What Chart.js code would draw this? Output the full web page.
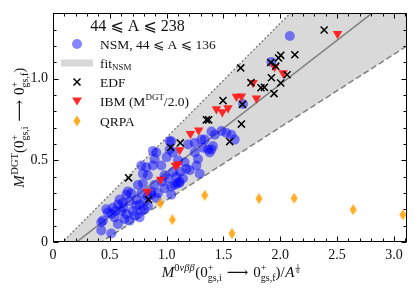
<!DOCTYPE html>
<html><head><meta charset="utf-8">
<script src="https://cdn.jsdelivr.net/npm/chart.js@4.4.1/dist/chart.umd.min.js"></script>
<style>html,body{margin:0;padding:0;background:#fff}canvas{display:block}</style>
</head><body>
<canvas id="c" width="415" height="292"></canvas>
<script>
// ---------- data ----------
const nsmX = [2.084,1.922,1.672,1.394,1.423,1.482,1.526,1.570,1.599,1.335,1.320,1.408,1.394,1.247,1.188,1.026,1.026,1.056,0.879,0.909,0.894,0.953,1.379,1.247,1.276,1.262,1.159,1.174,1.203,1.291,1.056,0.982,1.011,1.085,1.115,1.144,1.070,0.982,0.894,0.923,0.865,1.041,0.909,0.777,0.821,0.791,0.835,0.879,0.659,0.645,0.689,0.586,0.571,0.615,0.674,0.733,0.762,0.806,0.469,0.513,0.542,0.483,0.439,0.527,0.601,0.645,0.703,0.718,0.777,0.762,0.835,0.425,0.513,0.571,0.630,0.674,0.733,0.777,0.835,0.865,1.041,1.306,1.364,0.791,0.747,0.425,1.000,1.100,0.620,0.550,1.120,0.960,1.090,1.110,1.040,0.800];
const nsmY = [1.262,1.103,0.845,0.677,0.657,0.680,0.667,0.657,0.627,0.627,0.577,0.588,0.567,0.607,0.597,0.617,0.567,0.548,0.558,0.548,0.508,0.468,0.548,0.548,0.508,0.468,0.488,0.448,0.439,0.418,0.429,0.409,0.389,0.399,0.369,0.389,0.349,0.329,0.349,0.299,0.310,0.290,0.270,0.468,0.458,0.418,0.409,0.468,0.310,0.290,0.299,0.260,0.230,0.240,0.250,0.260,0.230,0.250,0.201,0.171,0.151,0.180,0.131,0.210,0.190,0.171,0.190,0.161,0.190,0.151,0.220,0.071,0.052,0.111,0.141,0.131,0.220,0.299,0.280,0.290,0.617,0.627,0.567,0.359,0.349,0.121,0.520,0.500,0.210,0.190,0.430,0.370,0.360,0.360,0.340,0.200];

const edfX = [0.665,0.841,1.035,1.120,1.350,1.370,1.496,1.555,1.652,1.658,1.667,1.742,1.830,1.860,1.916,1.922,1.945,1.960,1.985,2.004,2.004,2.060,2.128,2.386];
const edfY = [0.393,0.260,0.579,0.607,0.748,0.748,0.866,0.615,1.066,0.722,0.843,0.976,0.945,0.947,1.099,1.006,0.909,1.077,1.127,1.143,0.974,1.024,1.147,1.298];

const ibmX = [0.830,0.947,1.077,1.100,1.115,1.209,1.282,1.438,1.490,1.540,1.614,1.658,1.790,1.760,1.950,2.025,2.504];
const ibmY = [0.310,0.383,0.468,0.478,0.564,0.663,0.685,0.815,0.796,0.820,0.891,0.893,0.880,0.975,1.073,1.035,1.276];

const qrpaX = [0.944,1.050,1.335,1.575,1.813,2.122,2.641,3.079];
const qrpaY = [0.236,0.137,0.286,0.052,0.266,0.268,0.198,0.167];

// fit line (central) and band edges, given as end points
const fitX = [0, 3.2];
const fitCentralY = [-0.112, 1.613];
const fitUpperY = [-0.060, 2.180];
const fitLowerY = [-0.190, 1.239];

const xTicks = [0, 0.5, 1.0, 1.5, 2.0, 2.5, 3.0];
const yTicks = [0, 0.5, 1.0];
const xRange = [0, 3.115];
const yRange = [0, 1.4];

// ---------- helpers ----------
const SERIF = "'Liberation Serif','DejaVu Serif','DejaVu Sans',serif";
const font = (s, it) => (it ? 'italic ' : '') + s + 'px ' + SERIF;
const pts = (xs, ys) => xs.map((x, i) => ({x, y: ys[i]}));
const TXT = '#111';

function itemWidth(ctx, it) {
  if (it.frac) { ctx.font = font(it.s); return Math.max(ctx.measureText(it.frac[0]).width, ctx.measureText(it.frac[1]).width) + 1.5; }
  if (it.sup !== undefined) { ctx.font = font(it.s); return Math.max(ctx.measureText(it.sup).width, ctx.measureText(it.sub).width); }
  ctx.font = font(it.s, it.i); return ctx.measureText(it.t).width + (it.padL || 0) + (it.padR || 0);
}
function drawRich(ctx, items, x, y, align) {
  let w = 0; for (const it of items) w += itemWidth(ctx, it);
  let cx = align === 'center' ? x - w / 2 : x;
  ctx.textAlign = 'left'; ctx.textBaseline = 'alphabetic'; ctx.fillStyle = TXT;
  for (const it of items) {
    const iw = itemWidth(ctx, it);
    if (it.frac) {
      ctx.font = font(it.s);
      const by = y + it.dy;
      const w0 = ctx.measureText(it.frac[0]).width, w1 = ctx.measureText(it.frac[1]).width;
      ctx.fillText(it.frac[0], cx + (iw - w0) / 2, by - 1);
      ctx.fillText(it.frac[1], cx + (iw - w1) / 2, by + it.s * 0.72);
      ctx.fillRect(cx, by - 0.3, iw, 0.6);
    } else if (it.sup !== undefined) {
      ctx.font = font(it.s);
      ctx.fillText(it.sup, cx, y + it.supDy);
      ctx.fillText(it.sub, cx, y + it.subDy);
    } else {
      ctx.font = font(it.s, it.i);
      ctx.fillText(it.t, cx + (it.padL || 0), y + (it.dy || 0));
    }
    cx += iw;
  }
}

function diamondCanvas(fill) {
  const c = document.createElement('canvas'); c.width = 10; c.height = 14;
  const g = c.getContext('2d'); g.fillStyle = fill;
  g.beginPath(); g.moveTo(5, 1.5); g.lineTo(8.6, 7); g.lineTo(5, 12.5); g.lineTo(1.4, 7); g.closePath(); g.fill();
  return c;
}
const ORANGE = 'rgba(255,160,0,0.85)';
const BLUE = 'rgba(0,0,255,0.48)';
const RED = 'rgba(255,20,20,0.9)';
const BAND = '#d9d9d9';
const diamond = diamondCanvas(ORANGE);

// ---------- plugins ----------
const framePlugin = {
  id: 'frame',
  afterDraw(chart) {
    const {ctx, chartArea: a, scales: {x, y}} = chart;
    ctx.save();
    ctx.strokeStyle = '#000'; ctx.lineWidth = 1;
    const L = Math.round(a.left) + 0.5, R = Math.round(a.right) - 0.5, T = Math.round(a.top) + 0.5, B = Math.round(a.bottom) - 0.5;
    ctx.strokeRect(L, T, R - L, B - T);
    ctx.beginPath();
    for (let k = 0; k <= 31; k++) {
      const v = k / 10; if (v > xRange[1]) break;
      const px = Math.round(x.getPixelForValue(v)) + 0.5, len = k % 5 === 0 ? 5 : 3;
      ctx.moveTo(px, B); ctx.lineTo(px, B - len);
      ctx.moveTo(px, T); ctx.lineTo(px, T + len);
    }
    for (let k = 0; k <= 14; k++) {
      const v = k / 10;
      const py = Math.round(y.getPixelForValue(v)) + 0.5, len = k % 5 === 0 ? 5 : 3;
      ctx.moveTo(L, py); ctx.lineTo(L + len, py);
      ctx.moveTo(R, py); ctx.lineTo(R - len, py);
    }
    ctx.stroke();

    // axis titles
    const xl = [
      {t: 'M', s: 15, i: true},
      {t: '0', s: 10.5, dy: -6.5}, {t: 'νββ', s: 10.5, i: true, dy: -6.5, padR: 0.5},
      {t: '(0', s: 15},
      {sup: '+', sub: 'gs,i', s: 10, supDy: -6, subDy: 3.5},
      {t: '⟶', s: 15, padL: 5, padR: 5},
      {t: '0', s: 15},
      {sup: '+', sub: 'gs,f', s: 10, supDy: -6, subDy: 3.5},
      {t: ')/', s: 15, padR: 0.5},
      {t: 'A', s: 15, i: true, padR: 1},
      {frac: ['1', '6'], s: 6.5, dy: -8.5}
    ];
    drawRich(ctx, xl, (a.left + a.right) / 2 + 1, 277, 'center');

    const yl = [
      {t: 'M', s: 15, i: true, padR: 0.5},
      {t: 'DGT', s: 10.5, dy: -6.5},
      {t: '(0', s: 15},
      {sup: '+', sub: 'gs,i', s: 10, supDy: -6, subDy: 3.5},
      {t: '⟶', s: 15, padL: 5, padR: 5},
      {t: '0', s: 15},
      {sup: '+', sub: 'gs,f', s: 10, supDy: -6, subDy: 3.5},
      {t: ')', s: 15}
    ];
    ctx.save();
    ctx.translate(24, (a.top + a.bottom) / 2);
    ctx.rotate(-Math.PI / 2);
    drawRich(ctx, yl, 0, 0, 'center');
    ctx.restore();

    // legend
    drawRich(ctx, [{t: '44 ⩽ A ⩽ 238', s: 16}], 137.5, 31, 'center');
    const mx = 77, tx = 100, rows = [44, 63, 82, 101, 121];
    ctx.fillStyle = BLUE; ctx.beginPath(); ctx.arc(mx, rows[0], 5, 0, Math.PI * 2); ctx.fill();
    drawRich(ctx, [{t: 'NSM, 44 ⩽ A ⩽ 136', s: 13.5}], tx, rows[0] + 4.5);
    ctx.fillStyle = BAND; ctx.fillRect(61, rows[1] - 3.5, 32, 7);
    drawRich(ctx, [{t: 'fit', s: 13.5}, {t: 'NSM', s: 9, dy: 2.5}], tx, rows[1] + 4.5);
    ctx.strokeStyle = '#000'; ctx.lineWidth = 1.5; ctx.beginPath();
    ctx.moveTo(mx - 3.5, rows[2] - 3.5); ctx.lineTo(mx + 3.5, rows[2] + 3.5);
    ctx.moveTo(mx + 3.5, rows[2] - 3.5); ctx.lineTo(mx - 3.5, rows[2] + 3.5); ctx.stroke();
    drawRich(ctx, [{t: 'EDF', s: 13.5}], tx, rows[2] + 4.5);
    ctx.fillStyle = RED; ctx.beginPath();
    ctx.moveTo(mx - 5, rows[3] - 3.5); ctx.lineTo(mx + 5, rows[3] - 3.5); ctx.lineTo(mx, rows[3] + 4.5); ctx.closePath(); ctx.fill();
    drawRich(ctx, [{t: 'IBM (M', s: 13.5}, {t: 'DGT', s: 9, dy: -5.5}, {t: '/2.0)', s: 13.5}], tx, rows[3] + 4.5);
    ctx.drawImage(diamond, mx - 5, rows[4] - 7);
    drawRich(ctx, [{t: 'QRPA', s: 13.5}], tx, rows[4] + 4.5);
    ctx.restore();
  }
};

// ---------- chart ----------
const tickFont = {family: SERIF, size: 14};
const fmt = v => (v === 0 ? '0' : Number(v).toFixed(1));

new Chart(document.getElementById('c'), {
  type: 'scatter',
  data: {
    datasets: [
      {label: 'upper', data: pts(fitX, fitUpperY), showLine: true, borderColor: '#777', borderWidth: 1.3, borderDash: [2, 2], pointRadius: 0, fill: {target: 1}, backgroundColor: BAND, order: 12},
      {label: 'lower', data: pts(fitX, fitLowerY), showLine: true, borderColor: '#808080', borderWidth: 1.5, borderDash: [6, 3], pointRadius: 0, fill: false, order: 11},
      {label: 'fit', data: pts(fitX, fitCentralY), showLine: true, borderColor: '#808080', borderWidth: 1.5, pointRadius: 0, fill: false, order: 10},
      {label: 'NSM', data: pts(nsmX, nsmY), pointStyle: 'circle', pointRadius: 5, backgroundColor: BLUE, borderWidth: 0, order: 4},
      {label: 'IBM', data: pts(ibmX, ibmY), pointStyle: 'triangle', rotation: 180, pointRadius: 5.5, backgroundColor: RED, borderWidth: 0, order: 3},
      {label: 'EDF', data: pts(edfX, edfY), pointStyle: 'crossRot', pointRadius: 5, borderColor: '#000', borderWidth: 1.5, backgroundColor: '#000', order: 2},
      {label: 'QRPA', data: pts(qrpaX, qrpaY), pointStyle: diamond, pointRadius: 6, order: 1}
    ]
  },
  options: {
    responsive: false, animation: false, devicePixelRatio: 1,
    layout: {padding: {top: 7, right: 8, left: 0, bottom: 0}},
    plugins: {legend: {display: false}, tooltip: {enabled: false}},
    scales: {
      x: {
        type: 'linear', min: xRange[0], max: xRange[1],
        grid: {display: false, drawTicks: false}, border: {display: false},
        ticks: {font: tickFont, color: TXT, padding: 5, callback: fmt, maxRotation: 0},
        afterBuildTicks: s => { s.ticks = xTicks.map(v => ({value: v})); },
        afterFit: s => { s.height = 50; }
      },
      y: {
        type: 'linear', min: yRange[0], max: yRange[1],
        grid: {display: false, drawTicks: false}, border: {display: false},
        ticks: {font: tickFont, color: TXT, padding: 5, callback: fmt},
        afterBuildTicks: s => { s.ticks = yTicks.map(v => ({value: v})); },
        afterFit: s => { s.width = 53; }
      }
    }
  },
  plugins: [framePlugin]
});
</script>
</body></html>
